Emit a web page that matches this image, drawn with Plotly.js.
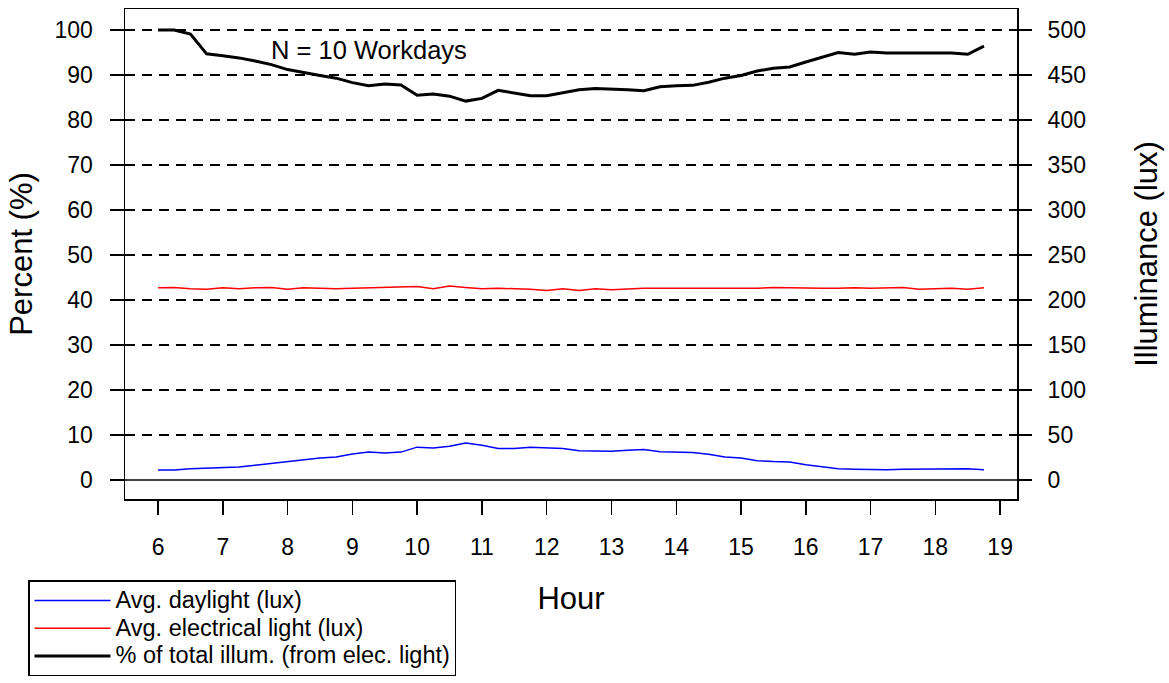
<!DOCTYPE html>
<html>
<head>
<meta charset="utf-8">
<script src="https://cdn.plot.ly/plotly-3.0.1.min.js"></script>
<style>html,body{margin:0;padding:0;background:#fff;}#chart{width:1169px;height:683px;}</style>
</head>
<body>
<div id="chart"></div>
<script>
// Hours (15-minute steps, 6:00 to 18:45)
const hours = [6.00,6.25,6.50,6.75,7.00,7.25,7.50,7.75,8.00,8.25,8.50,8.75,9.00,9.25,9.50,9.75,
  10.00,10.25,10.50,10.75,11.00,11.25,11.50,11.75,12.00,12.25,12.50,12.75,13.00,13.25,13.50,13.75,
  14.00,14.25,14.50,14.75,15.00,15.25,15.50,15.75,16.00,16.25,16.50,16.75,17.00,17.25,17.50,17.75,
  18.00,18.25,18.50,18.75];

// Avg. daylight (lux)
const daylightLux = [11,11,12.5,13,14,14.5,16.5,18.5,21,23,24.5,25.5,29,31,30,31,
  36.5,35.5,37.5,41,38.5,35,35,36.5,36,35,32.5,32,32,33,34,31.5,
  31,30.5,28.5,25.5,24.5,21.5,20.5,20,17,14.5,12.5,12,11.5,11.5,12,12,
  12,12,12.5,11.5];

// Avg. electrical light (lux)
const electricLux = [213.5,214,212.5,212,213.5,212.5,213.5,214,212,213.5,213,212.5,213,213.5,214,214,
  215,212.5,215.5,214,212.5,213,212.5,212,210.5,212.5,210.5,212.5,211.5,212.5,213,213,
  213,213,213,212.5,213,213,214,213.5,213,213,213,213.5,213,213.5,214,212,
  212.5,213,212,213.5];

// % of total illumination from electrical light
const pctElectric = [100,100,99.1,94.7,94.3,93.8,93.1,92.3,91.2,90.5,89.9,89.3,88.3,87.6,88.0,87.8,
  85.5,85.8,85.3,84.2,84.8,86.6,86.0,85.4,85.4,86.0,86.7,87.0,86.9,86.7,86.5,87.4,
  87.6,87.7,88.4,89.3,89.9,90.9,91.5,91.8,92.9,93.9,95.0,94.6,95.1,94.9,94.9,94.9,
  94.9,94.9,94.6,96.4];

const seriesNames = ['Avg. daylight (lux)', 'Avg. electrical light (lux)', '% of total illum. (from elec. light)'];
const xTicks = [6,7,8,9,10,11,12,13,14,15,16,17,18,19];
const pctTicks = [0,10,20,30,40,50,60,70,80,90,100];
const luxTicks = [0,50,100,150,200,250,300,350,400,450,500];

const FONT = '"Liberation Sans", Arial, Helvetica, sans-serif';
const legendLabel = s => '<span style="font-size:23.5px">' + s + '</span>';

const traces = [
  {x: hours, y: daylightLux, yaxis: 'y2', type: 'scatter', mode: 'lines',
   name: legendLabel(seriesNames[0]), line: {color: '#0000ff', width: 1.5}},
  {x: hours, y: electricLux, yaxis: 'y2', type: 'scatter', mode: 'lines',
   name: legendLabel(seriesNames[1]), line: {color: '#ff0000', width: 1.5}},
  {x: hours, y: pctElectric, yaxis: 'y', type: 'scatter', mode: 'lines',
   name: legendLabel(seriesNames[2]), line: {color: '#000000', width: 3}}
];

const pctRange = [-19/4.5, 100 + 21/4.5];

const layout = {
  width: 1169, height: 683,
  margin: {l: 125, r: 152, t: 9, b: 184, autoexpand: false},
  paper_bgcolor: '#ffffff', plot_bgcolor: '#ffffff',
  font: {family: FONT, size: 23, color: '#000'},
  showlegend: true,
  legend: {
    x: -0.1085, y: -0.166, xanchor: 'left', yanchor: 'top',
    bordercolor: '#000', borderwidth: 1.3, bgcolor: '#fff',
    font: {family: FONT, size: 19, color: '#000'},
    itemwidth: 76, tracegroupgap: 0
  },
  xaxis: {
    range: [5.49, 19.26], tickvals: xTicks, ticktext: xTicks.map(String),
    showgrid: false, zeroline: false,
    showline: true, linecolor: '#000', linewidth: 1.5, mirror: true,
    ticks: 'outside', ticklen: 14, tickwidth: 1.5, tickcolor: '#000',
    ticklabelstandoff: 13,
    tickfont: {family: FONT, size: 23},
    title: {text: 'Hour', font: {family: FONT, size: 31}, standoff: 28},
    automargin: false
  },
  yaxis: {
    range: pctRange, tickvals: pctTicks, ticktext: pctTicks.map(String),
    showgrid: true, gridcolor: '#000', gridwidth: 2, griddash: '10px,7px',
    zeroline: true, zerolinecolor: '#444', zerolinewidth: 2,
    showline: true, linecolor: '#000', linewidth: 1.5, mirror: true,
    ticks: 'outside', ticklen: 14, tickwidth: 1.5, tickcolor: '#000',
    ticklabelstandoff: 12,
    tickfont: {family: FONT, size: 23},
    title: {text: 'Percent (%)', font: {family: FONT, size: 31}, standoff: 12},
    automargin: false
  },
  yaxis2: {
    overlaying: 'y', side: 'right', range: [pctRange[0] * 5, pctRange[1] * 5],
    tickvals: luxTicks, ticktext: luxTicks.map(String),
    showgrid: false, zeroline: false, showline: false,
    ticks: 'outside', ticklen: 14, tickwidth: 1.5, tickcolor: '#000',
    ticklabelstandoff: 11,
    tickfont: {family: FONT, size: 23},
    title: {text: 'Illuminance (lux)', font: {family: FONT, size: 31}, standoff: 50},
    automargin: false
  },
  annotations: [{
    x: 9.26, y: 95.5, xref: 'x', yref: 'y', text: 'N = 10 Workdays',
    showarrow: false, font: {family: FONT, size: 25.5, color: '#000'},
    xanchor: 'center', yanchor: 'middle'
  }]
};

Plotly.newPlot('chart', traces, layout, {displayModeBar: false, staticPlot: true});
</script>
</body>
</html>
